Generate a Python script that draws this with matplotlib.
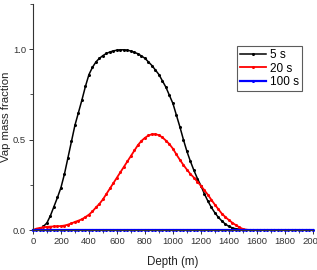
import matplotlib
matplotlib.use("Agg")
import matplotlib.pyplot as plt
from matplotlib.ticker import MultipleLocator

depth = list(range(0, 2001, 25))
frac_5s = [0.0, 0.0, 0.005, 0.02, 0.04, 0.08, 0.13, 0.18, 0.235, 0.31,
           0.40, 0.49, 0.58, 0.65, 0.72, 0.795, 0.86, 0.90, 0.93, 0.95,
           0.965, 0.977, 0.985, 0.991, 0.995, 0.997, 0.997, 0.995, 0.99, 0.983,
           0.975, 0.963, 0.95, 0.93, 0.91, 0.885, 0.86, 0.825, 0.79, 0.745,
           0.70, 0.635, 0.57, 0.50, 0.435, 0.38, 0.33, 0.285, 0.245, 0.20,
           0.16, 0.125, 0.095, 0.07, 0.05, 0.033, 0.02, 0.012, 0.007, 0.003,
           0.001] + [0.0] * 20
frac_20s = [0.0, 0.008, 0.012, 0.015, 0.018, 0.019, 0.02, 0.021, 0.022, 0.025,
            0.03, 0.037, 0.045, 0.052, 0.06, 0.072, 0.085, 0.103, 0.125, 0.145,
            0.17, 0.20, 0.23, 0.26, 0.29, 0.32, 0.35, 0.38, 0.41, 0.44,
            0.47, 0.493, 0.51, 0.523, 0.53, 0.53, 0.525, 0.512, 0.495, 0.475,
            0.45, 0.418, 0.388, 0.36, 0.334, 0.31, 0.29, 0.267, 0.245, 0.22,
            0.195, 0.167, 0.14, 0.115, 0.09, 0.072, 0.055, 0.04, 0.027, 0.015,
            0.006, 0.002] + [0.0] * 19
frac_100s = [0.0] * len(depth)
labels = ["5 s", "20 s", "100 s"]

plt.rcParams['font.family'] = ['Liberation Sans', 'DejaVu Sans']
fig = plt.figure(figsize=(3.17, 2.70), dpi=100)
ax = fig.add_axes([0.104, 0.148, 0.883, 0.837])

ax.plot(depth, frac_5s, color='black', marker='o', markersize=1.2, lw=1.1, label=labels[0])
ax.plot(depth, frac_20s, color='red', marker='o', markersize=1.2, lw=1.3, label=labels[1])
ax.plot(depth, frac_100s, color='blue', marker='o', markersize=1.2, lw=1.6, label=labels[2], clip_on=False)

ax.set_xlim(0, 2000)
ax.set_ylim(0, 1.25)
ax.xaxis.set_major_locator(MultipleLocator(200))
ax.xaxis.set_minor_locator(MultipleLocator(100))
ax.yaxis.set_minor_locator(MultipleLocator(0.25))
ax.set_yticks([0.0, 0.5, 1.0])
ax.set_yticklabels(["0.0", "0.5", "1.0"])

for s in ['top', 'right']:
    ax.spines[s].set_visible(False)
for s in ['left', 'bottom']:
    ax.spines[s].set_color('#333333')
    ax.spines[s].set_linewidth(0.8)
ax.tick_params(which='major', direction='out', length=3, width=0.7, colors='#333333', labelsize=6.8, pad=2)
ax.tick_params(which='minor', direction='out', length=2, width=0.6, colors='#333333')

ax.set_xlabel("Depth (m)", fontsize=8.3, color='#222222', labelpad=7)
ax.set_ylabel("Vap mass fraction", fontsize=8.2, color='#222222')
ax.yaxis.set_label_coords(-0.078, 0.5)

leg = ax.legend(loc='upper left', bbox_to_anchor=(0.73, 0.815), fontsize=8.5,
                frameon=True, fancybox=False, handlelength=2.2, handletextpad=0.3,
                borderpad=0.25, labelspacing=0.15, borderaxespad=0)
leg.get_frame().set_edgecolor('#333333')
leg.get_frame().set_linewidth(0.8)

fig.savefig("out.png", dpi=100)
